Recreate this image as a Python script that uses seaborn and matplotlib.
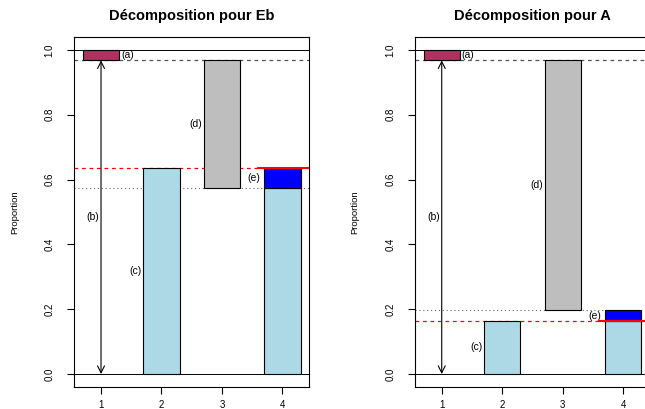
import matplotlib
matplotlib.use("Agg")
import matplotlib.pyplot as plt
import seaborn as sns

# ---- data ----
categories = ["1", "2", "3", "4"]
panel_names = ["Eb", "A"]
a_low = [0.968, 0.968]      # bottom of (a) segment, top is 1.0
c_level = [0.636, 0.164]    # height of (c)
d_low = [0.574, 0.197]      # bottom of (d), top is a_low
seg_labels = ["(a)", "(b)", "(c)", "(d)", "(e)"]

MAROON = "#B03060"
LIGHTBLUE = "#ADD8E6"
GRAY = "#BEBEBE"
BLUE = "#0000FF"

sns.set_style("white")
plt.rcParams["font.family"] = ["Liberation Sans", "DejaVu Sans"]
plt.rcParams["text.color"] = "black"
plt.rcParams["xtick.color"] = "black"
plt.rcParams["ytick.color"] = "black"
plt.rcParams["axes.labelcolor"] = "black"

fig = plt.figure(figsize=(6.45, 4.09), dpi=100)
W, H = 645, 409
ax_lefts = [74, 414.7]
ax_w = 235
ax_top, ax_bot = 37, 387


def seg(ax, cat, lo, hi, color):
    sns.barplot(x=[cat], y=[hi - lo], bottom=[lo], order=categories,
                color=color, saturation=1, width=0.6, edgecolor="black",
                linewidth=0.8, errorbar=None, ax=ax)


for i, name in enumerate(panel_names):
    ax = fig.add_axes([ax_lefts[i] / W, 1 - ax_bot / H, ax_w / W, (ax_bot - ax_top) / H])
    a, c, d = a_low[i], c_level[i], d_low[i]
    lo4, hi4 = min(c, d), max(c, d)

    # reference lines
    ax.axhline(1.0, color="black", lw=0.7, zorder=1)
    ax.axhline(0.0, color="black", lw=0.7, zorder=1)
    ax.axhline(a, color="#555555", lw=0.9, ls=(0, (3, 3)), zorder=1)
    ax.axhline(d, color="#666666", lw=0.8, ls=(0, (1, 2.5)), zorder=1)
    ax.axhline(c, color="#FF0000", lw=0.9, ls=(0, (3, 3)), zorder=1)

    # bars
    seg(ax, "1", a, 1.0, MAROON)
    seg(ax, "2", 0.0, c, LIGHTBLUE)
    seg(ax, "3", d, a, GRAY)
    seg(ax, "4", 0.0, lo4, LIGHTBLUE)
    seg(ax, "4", lo4, hi4, BLUE)

    # solid red segment at bar 4
    ax.plot([2.6, 3.6], [c, c], color="#FF0000", lw=1.5, zorder=5, clip_on=True)

    # double arrow (b)
    ax.annotate("", xy=(0, 0), xytext=(0, a),
                arrowprops=dict(arrowstyle="<->,head_length=0.5,head_width=0.25",
                                color="black", lw=0.8, shrinkA=0, shrinkB=0),
                zorder=6)

    fs = 7.5
    off = 0.03
    ax.text(0.3 + off, (a + 1) / 2, seg_labels[0], ha="left", va="center", fontsize=fs)
    ax.text(0 - off, a / 2, seg_labels[1], ha="right", va="center", fontsize=fs)
    ax.text(1 - 0.3 - off, c / 2, seg_labels[2], ha="right", va="center", fontsize=fs)
    ax.text(2 - 0.3 - off, (d + a) / 2, seg_labels[3], ha="right", va="center", fontsize=fs)
    ax.text(3 - 0.3 - off * 2, (lo4 + hi4) / 2, seg_labels[4], ha="right", va="center", fontsize=fs)

    ax.set_xlim(-0.447, 3.44)
    ax.set_ylim(-0.04, 1.04)
    ax.set_xticks(range(len(categories)))
    ax.set_xticklabels(categories)
    ax.set_yticks([0.0, 0.2, 0.4, 0.6, 0.8, 1.0])
    ax.set_yticklabels(["0.0", "0.2", "0.4", "0.6", "0.8", "1.0"], rotation=90, va="center")
    ax.tick_params(axis="both", direction="out", length=5, width=0.8, color="black",
                   labelsize=7, bottom=True, left=True)
    ax.tick_params(axis="y", pad=9)
    ax.tick_params(axis="x", pad=4)
    for sp in ax.spines.values():
        sp.set_visible(True)
        sp.set_color("black")
        sp.set_linewidth(0.8)
    ax.set_xlabel("")
    ax.set_ylabel("Proportion", fontsize=6.8)
    ax.yaxis.set_label_coords(-0.234, 0.5)
    ax.set_title(f"Décomposition pour {name}", fontsize=10.5, fontweight="bold", pad=12,
                 color="black")

fig.savefig("out.png", dpi=100)
